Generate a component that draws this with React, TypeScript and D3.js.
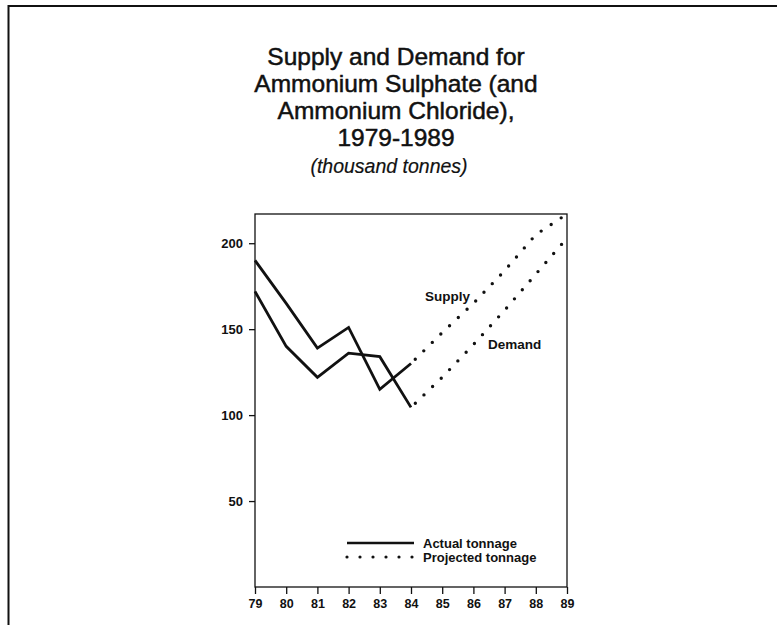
//@ts-nocheck
import * as d3 from "d3";
import { useRef, useEffect } from "react";

const titleLines = [
  "Supply and Demand for",
  "Ammonium Sulphate (and",
  "Ammonium Chloride),",
  "1979-1989",
];
const subtitle = "(thousand tonnes)";

const years = [79, 80, 81, 82, 83, 84, 85, 86, 87, 88, 89];
const yTicks = [50, 100, 150, 200];

const actualYears = [79, 80, 81, 82, 83, 84];
const supplyActual = [190, 165, 139, 151, 115, 130];
const demandActual = [172, 140, 122, 136, 134, 104.5];

const projectedYears = [84, 85, 86, 87, 88, 89];
const supplyProjected = [130, 148, 165, 184, 205, 217];
const demandProjected = [104.5, 122, 141, 161, 182, 203];

const legendLabels = ["Actual tonnage", "Projected tonnage"];

const width = 777;
const height = 625;
const marginLeft = 255;
const marginRight = 210;
const marginTop = 214;
const marginBottom = 38;

const font = "'Liberation Sans', Arial, Helvetica, sans-serif";

export default function App() {
  const x = d3.scaleLinear([79, 89], [marginLeft, width - marginRight]);
  const y = d3.scaleLinear([0, 217], [height - marginBottom, marginTop]);
  const line = d3
    .line()
    .x((d) => x(d[0]))
    .y((d) => y(d[1]));

  const gx = useRef();
  const gy = useRef();

  useEffect(() => {
    const g = d3.select(gx.current);
    g.call(
      d3
        .axisBottom(x)
        .tickValues(years)
        .tickSize(7)
        .tickSizeOuter(0)
        .tickPadding(5)
        .tickFormat((d) => String(d)),
    );
    g.select(".domain").remove();
    g.selectAll("line").attr("stroke", "#111").attr("stroke-width", 1.3);
    g.selectAll("text")
      .attr("font-family", font)
      .attr("font-weight", "bold")
      .attr("font-size", 12.5)
      .attr("fill", "#111");
  }, [x]);

  useEffect(() => {
    const g = d3.select(gy.current);
    g.call(
      d3
        .axisLeft(y)
        .tickValues(yTicks)
        .tickSize(6)
        .tickSizeOuter(0)
        .tickPadding(6),
    );
    g.select(".domain").remove();
    g.selectAll("line").attr("stroke", "#111").attr("stroke-width", 1.3);
    g.selectAll("text")
      .attr("font-family", font)
      .attr("font-weight", "bold")
      .attr("font-size", 13)
      .attr("fill", "#111");
  }, [y]);

  const zip = (xs, vs) => xs.map((v, i) => [v, vs[i]]);
  const dotted = {
    fill: "none",
    stroke: "#111",
    strokeWidth: 3.4,
    strokeLinecap: "round",
    strokeDasharray: "0 12",
    strokeDashoffset: 6,
  };

  return (
    <svg
      width={width}
      height={height}
      style={{ position: "absolute", left: 0, top: 0, background: "#fff" }}
    >
      {/* page frame */}
      <path d="M8.5,625V6H777" fill="none" stroke="#111" strokeWidth={2} />

      {/* title */}
      <g fontFamily={font} fill="#111" textAnchor="middle">
        {titleLines.map((t, i) => (
          <text
            key={i}
            x={396}
            y={65 + i * 27}
            fontSize={24.5}
            stroke="#111"
            strokeWidth={0.5}
          >
            {t}
          </text>
        ))}
        <text x={389} y={173} fontSize={19.5} fontStyle="italic" stroke="#111" strokeWidth={0.2}>
          {subtitle}
        </text>
      </g>

      {/* plot box */}
      <rect
        x={marginLeft}
        y={marginTop}
        width={width - marginRight - marginLeft}
        height={height - marginBottom - marginTop}
        fill="none"
        stroke="#111"
        strokeWidth={1.3}
      />
      <g ref={gx} transform={`translate(0,${height - marginBottom})`} />
      <g ref={gy} transform={`translate(${marginLeft},0)`} />

      {/* actual lines */}
      <g fill="none" stroke="#111" strokeWidth={2.8} strokeLinejoin="miter">
        <path d={line(zip(actualYears, supplyActual))} />
        <path d={line(zip(actualYears, demandActual))} />
      </g>

      {/* projected lines */}
      <path d={line(zip(projectedYears, supplyProjected))} {...dotted} />
      <path d={line(zip(projectedYears, demandProjected))} {...dotted} />

      {/* series labels */}
      <g fontFamily={font} fontWeight="bold" fontSize={13.5} fill="#111">
        <text x={425} y={301}>
          Supply
        </text>
        <text x={488} y={349}>
          Demand
        </text>
      </g>

      {/* legend */}
      <g fontFamily={font} fontWeight="bold" fontSize={13} fill="#111">
        <line x1={347} x2={414} y1={543} y2={543} stroke="#111" strokeWidth={2.6} />
        <text x={423} y={548}>
          {legendLabels[0]}
        </text>
        <path
          d="M347,557H414"
          fill="none"
          stroke="#111"
          strokeWidth={3.2}
          strokeLinecap="round"
          strokeDasharray="0 13"
        />
        <text x={423} y={562}>
          {legendLabels[1]}
        </text>
      </g>
    </svg>
  );
}
